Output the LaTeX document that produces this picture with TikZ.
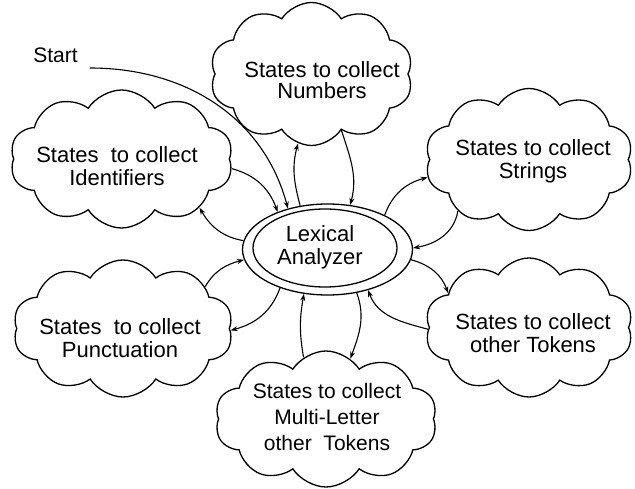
\documentclass[tikz,border=0pt]{standalone}
\usepackage{fontspec}
\setmainfont{Liberation Sans}
\usetikzlibrary{shapes.symbols,shapes.geometric,arrows.meta}
\begin{document}
\begin{tikzpicture}[x=1pt,y=-1pt,
  line width=1.3pt,
  cloudbox/.style={draw, cloud, cloud puffs=10, cloud puff arc=115, cloud ignores aspect, inner sep=0pt},
  lbl/.style={align=center, inner sep=0pt, font=\fontsize{22}{23}\selectfont},
  ellbox/.style={draw, ellipse, inner sep=0pt},
  conn/.style={-{Stealth[length=7pt,width=5pt]}, line width=1.1pt}]
\useasboundingbox (0,0) rectangle (635,489);

% central ellipse
\node[ellbox, minimum width=170pt, minimum height=91pt] (lexo) at (327.5,249.5) {};
\node[ellbox, minimum width=144pt, minimum height=78pt] (lexi) at (325,248) {};
\node[lbl] (lext) at (320,247) {Lexical\\Analyzer};

% clouds
\node[cloudbox, minimum width=203pt, minimum height=143pt] (num) at (311.5,74) {};
\node[cloudbox, minimum width=223pt, minimum height=138pt] (ide) at (121.5,159) {};
\node[cloudbox, minimum width=208pt, minimum height=142pt] (str) at (529,159.5) {};
\node[cloudbox, minimum width=208pt, minimum height=139pt] (oth) at (529,327.5) {};
\node[cloudbox, minimum width=222pt, minimum height=136pt] (mul) at (326,419) {};
\node[cloudbox, minimum width=220pt, minimum height=137pt] (pun) at (123,328.5) {};

% texts
\node[lbl, font=\fontsize{22}{21}\selectfont] (numt) at (322,80) {States to collect\\Numbers};
\node[lbl] (idet) at (117,166) {States~ to collect\\Identifiers};
\node[lbl] (strt) at (533,161) {States to collect\\Strings};
\node[lbl] (otht) at (533,333) {States to collect\\other Tokens};
\node[lbl, font=\fontsize{21}{26}\selectfont] (mult) at (327,417) {States to collect\\Multi-Letter\\other~ Tokens};
\node[lbl] (punt) at (120,338) {States~ to collect\\Punctuation};

% start
\node[lbl, font=\fontsize{21}{23}\selectfont] (start) at (55.5,55.5) {Start};
\coordinate (s0) at (90,68);
\draw[conn] (s0) to[out=0,in=105] (lexo.134);

% connectors
\draw[conn] (lexo.122) to[out=105,in=255] (num.259);
\draw[conn] (num.298) to[out=-72,in=75] (lexo.63);

\draw[conn] (ide.355) to[out=-15,in=110] (lexo.143);
\draw[conn] (lexo.174) to[out=170,in=-60] (ide.328);

\draw[conn] (lexo.31) to[out=70,in=195] (str.190);
\draw[conn] (str.216) to[out=-100,in=10] (lexo.1);

\draw[conn] (lexo.-7) to[out=-15,in=110] (oth.157);
\draw[conn] (oth.181) to[out=165,in=-70] (lexo.-45);

\draw[conn] (mul.110) to[out=100,in=260] (lexo.242);
\draw[conn] (lexo.304) to[out=-70,in=70] (mul.68);

\draw[conn] (pun.27) to[out=60,in=195] (lexo.187);
\draw[conn] (lexo.219) to[out=-110,in=15] (pun.359);
\end{tikzpicture}
\end{document}
